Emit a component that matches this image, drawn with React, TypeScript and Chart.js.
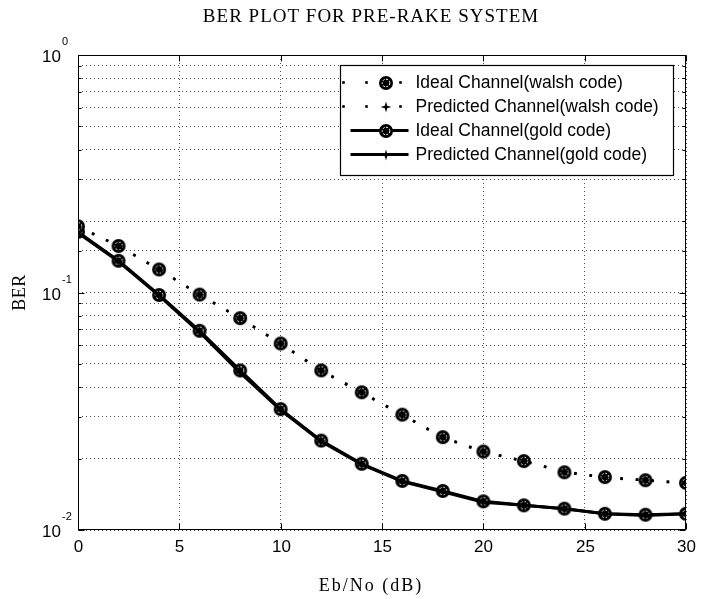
import React, { useEffect, useRef } from 'react';
import { Chart, registerables } from 'chart.js';

Chart.register(...registerables);

// ---- data ----
const ebNo = [0, 2, 4, 6, 8, 10, 12, 14, 16, 18, 20, 22, 24, 26, 28, 30];
const walshIdeal = [0.19, 0.157, 0.125, 0.098, 0.078, 0.061, 0.047, 0.038, 0.0306, 0.0246, 0.0214, 0.0195, 0.0175, 0.0167, 0.0162, 0.0158];
const walshPredicted = [0.189, 0.157, 0.125, 0.0978, 0.0778, 0.0608, 0.0468, 0.0378, 0.0305, 0.0245, 0.0213, 0.0195, 0.0176, 0.0166, 0.0162, 0.0157];
const goldIdeal = [0.18, 0.136, 0.0976, 0.069, 0.047, 0.0323, 0.0238, 0.019, 0.0161, 0.0146, 0.0132, 0.0127, 0.0123, 0.0117, 0.0116, 0.0117];
const goldPredicted = [0.178, 0.135, 0.097, 0.068, 0.046, 0.032, 0.0236, 0.0189, 0.016, 0.0145, 0.0131, 0.0127, 0.0123, 0.0117, 0.0115, 0.0117];
const xTickValues = [0, 5, 10, 15, 20, 25, 30];
const yDecadeValues = [1, 0.1, 0.01];
const yDecadeExponents = ['0', '-1', '-2'];
const legendLabels = [
  'Ideal Channel(walsh code)',
  'Predicted Channel(walsh code)',
  'Ideal Channel(gold code)',
  'Predicted Channel(gold code)',
];
const titleText = 'BER PLOT FOR PRE-RAKE SYSTEM';
const xTitleText = 'Eb/No (dB)';
const yTitleText = 'BER';

const SANS = '"Liberation Sans", Arial, sans-serif';
const SERIF = '"Liberation Serif", "Times New Roman", serif';

function makeRing(): HTMLCanvasElement {
  const c = document.createElement('canvas');
  c.width = 16;
  c.height = 16;
  const g = c.getContext('2d')!;
  g.fillStyle = '#000';
  g.beginPath();
  g.arc(8, 8, 7, 0, Math.PI * 2);
  g.fill();
  g.strokeStyle = '#fff';
  g.lineWidth = 1;
  g.setLineDash([2, 1.5]);
  g.beginPath();
  g.arc(8, 8, 3.8, 0, Math.PI * 2);
  g.stroke();
  return c;
}

function makeStar(): HTMLCanvasElement {
  const c = document.createElement('canvas');
  c.width = 12;
  c.height = 12;
  const g = c.getContext('2d')!;
  const m = 6;
  const R = 5.5;
  const r = 1.7;
  g.fillStyle = '#000';
  g.beginPath();
  for (let i = 0; i < 8; i++) {
    const ang = (i * Math.PI) / 4 - Math.PI / 2;
    const rad = i % 2 === 0 ? R : r;
    const px = m + rad * Math.cos(ang);
    const py = m + rad * Math.sin(ang);
    if (i === 0) g.moveTo(px, py);
    else g.lineTo(px, py);
  }
  g.closePath();
  g.fill();
  return c;
}

export default function App() {
  const ref = useRef<HTMLCanvasElement | null>(null);

  useEffect(() => {
    const canvas = ref.current;
    if (!canvas) return;
    const ring = makeRing();
    const star = makeStar();
    const dotted = [2.6, 12.9];

    const decor = {
      id: 'decor',
      afterDraw(chart: any) {
        const { ctx, chartArea: a, scales } = chart;
        const xs = scales.x;
        const ys = scales.y;
        ctx.save();
        ctx.setLineDash([]);
        ctx.strokeStyle = '#000';
        ctx.fillStyle = '#000';
        ctx.lineWidth = 1;
        const L = Math.round(a.left) + 0.5;
        const R = Math.round(a.right) - 0.5;
        const T = Math.round(a.top) + 0.5;
        const B = Math.round(a.bottom) - 0.5;
        ctx.strokeRect(L, T, R - L, B - T);

        // x ticks (inward) and labels
        ctx.font = `17px ${SANS}`;
        ctx.textAlign = 'center';
        ctx.textBaseline = 'alphabetic';
        xTickValues.forEach((v) => {
          const px = Math.round(xs.getPixelForValue(v)) + 0.5;
          ctx.beginPath();
          ctx.moveTo(px, B);
          ctx.lineTo(px, B - 6);
          ctx.moveTo(px, T);
          ctx.lineTo(px, T + 6);
          ctx.stroke();
          ctx.fillText(String(v), px, a.bottom + 22);
        });

        // y ticks (inward)
        ys.ticks.forEach((t: any) => {
          const lg = Math.log10(t.value);
          const major = Math.abs(lg - Math.round(lg)) < 1e-6;
          const len = major ? 6 : 3;
          const py = Math.round(ys.getPixelForValue(t.value)) + 0.5;
          ctx.beginPath();
          ctx.moveTo(L, py);
          ctx.lineTo(L + len, py);
          ctx.moveTo(R, py);
          ctx.lineTo(R - len, py);
          ctx.stroke();
        });

        // y decade labels 10^n
        yDecadeValues.forEach((v, i) => {
          const py = ys.getPixelForValue(v);
          const base = a.left - 17;
          ctx.font = `17px ${SANS}`;
          ctx.textAlign = 'right';
          ctx.textBaseline = 'alphabetic';
          ctx.fillText('10', base, py + 7);
          ctx.font = `11px ${SANS}`;
          ctx.textAlign = 'left';
          ctx.fillText(yDecadeExponents[i], base + 1, py - 10);
        });

        // titles
        const cx = (a.left + a.right) / 2 - 11;
        ctx.textAlign = 'center';
        ctx.textBaseline = 'middle';
        ctx.font = `19px ${SERIF}`;
        (ctx as any).letterSpacing = '1px';
        ctx.fillText(titleText, cx, 17);
        ctx.font = `18px ${SERIF}`;
        (ctx as any).letterSpacing = '2px';
        ctx.fillText(xTitleText, cx, a.bottom + 56);
        ctx.save();
        ctx.translate(20, (a.top + a.bottom) / 2);
        ctx.rotate(-Math.PI / 2);
        (ctx as any).letterSpacing = '0.5px';
        ctx.fillText(yTitleText, 0, 0);
        ctx.restore();
        (ctx as any).letterSpacing = '0px';

        // legend box
        const bx = Math.round(a.right - 346) + 0.5;
        const by = Math.round(a.top + 10) + 0.5;
        const bw = 333;
        const bh = 110;
        ctx.fillStyle = '#fff';
        ctx.fillRect(bx, by, bw, bh);
        ctx.strokeStyle = '#000';
        ctx.lineWidth = 1.2;
        ctx.strokeRect(bx, by, bw, bh);
        ctx.font = `17.5px ${SANS}`;
        ctx.textAlign = 'left';
        ctx.textBaseline = 'middle';
        legendLabels.forEach((lbl, i) => {
          const ry = by + 17 + i * 24;
          const mx = bx + 45;
          ctx.fillStyle = '#000';
          if (i < 2) {
            [3, 26, 60].forEach((dx) => {
              ctx.fillRect(bx + dx - 1.3, ry - 1.3, 2.6, 2.6);
            });
          } else {
            ctx.strokeStyle = '#000';
            ctx.lineWidth = 3;
            ctx.beginPath();
            ctx.moveTo(bx + 10, ry);
            ctx.lineTo(bx + 68, ry);
            ctx.stroke();
          }
          const img = i % 2 === 0 ? ring : star;
          ctx.drawImage(img, Math.round(mx - img.width / 2), Math.round(ry - img.height / 2));
          ctx.fillStyle = '#000';
          ctx.fillText(lbl, bx + 75, ry + 1);
        });
        ctx.restore();
      },
    };

    const chart = new Chart(canvas, {
      type: 'line',
      data: {
        labels: ebNo,
        datasets: [
          {
            label: legendLabels[0],
            data: ebNo.map((x, i) => ({ x, y: walshIdeal[i] })),
            borderColor: '#000',
            borderWidth: 2.6,
            borderDash: dotted,
            pointStyle: ring as any,
            pointRadius: 7,
            order: 2,
          },
          {
            label: legendLabels[1],
            data: ebNo.map((x, i) => ({ x, y: walshPredicted[i] })),
            borderColor: '#000',
            borderWidth: 2.6,
            borderDash: dotted,
            pointStyle: star as any,
            pointRadius: 5,
            order: 1,
          },
          {
            label: legendLabels[2],
            data: ebNo.map((x, i) => ({ x, y: goldIdeal[i] })),
            borderColor: '#000',
            borderWidth: 3,
            pointStyle: ring as any,
            pointRadius: 7,
            order: 2,
          },
          {
            label: legendLabels[3],
            data: ebNo.map((x, i) => ({ x, y: goldPredicted[i] })),
            borderColor: '#000',
            borderWidth: 3,
            pointStyle: star as any,
            pointRadius: 5,
            order: 1,
          },
        ],
      },
      options: {
        responsive: false,
        animation: false,
        events: [],
        layout: { padding: { left: 78, right: 25, top: 55, bottom: 69 } },
        elements: { line: { tension: 0 } },
        plugins: {
          legend: { display: false },
          tooltip: { enabled: false },
          title: { display: false },
        },
        scales: {
          x: {
            type: 'linear',
            min: 0,
            max: 30,
            ticks: { display: false, stepSize: 5 },
            grid: { color: 'rgba(0,0,0,0.7)', lineWidth: 1, drawTicks: false },
            border: { display: false, dash: [1, 3] },
          },
          y: {
            type: 'logarithmic',
            min: 0.01,
            max: 1,
            ticks: { display: false },
            grid: { color: 'rgba(0,0,0,0.7)', lineWidth: 1, drawTicks: false },
            border: { display: false, dash: [1, 3] },
          },
        },
      },
      plugins: [decor],
    });

    return () => chart.destroy();
  }, []);

  return (
    <div style={{ position: 'fixed', left: 0, top: 0, width: 711, height: 599, background: '#fff' }}>
      <canvas ref={ref} width={711} height={599} style={{ display: 'block', width: 711, height: 599 }} />
    </div>
  );
}
